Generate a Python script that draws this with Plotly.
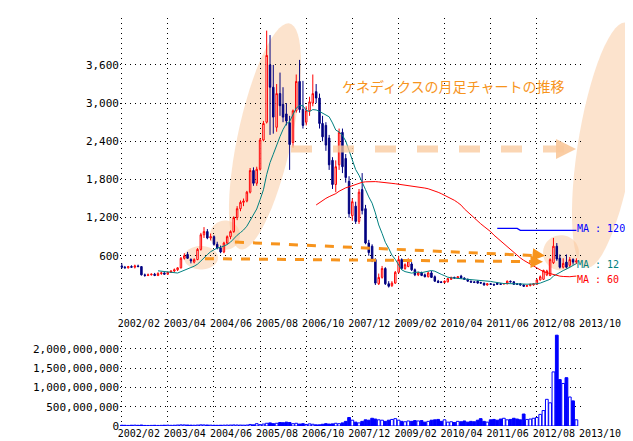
import numpy as np
import pandas as pd
import plotly.graph_objects as go

# ---------------- data ----------------
ohlc = [
(440,480,400,420),(420,440,400,410),(410,440,400,430),(430,450,410,420),(420,460,400,440),
(440,460,420,430),(430,430,290,300),(300,320,270,290),(290,320,280,300),(300,320,290,310),
(310,330,280,290),(290,340,280,320),(320,350,300,330),(330,340,300,310),(310,350,300,340),
(340,370,330,360),(360,400,340,380),(380,420,360,410),(410,580,400,560),(560,640,540,600),
(620,660,550,560),(540,560,480,520),(500,560,480,540),(540,720,530,700),(700,960,680,930),
(930,1050,880,980),(980,1020,860,880),(880,950,840,900),(900,920,760,780),(780,820,700,720),
(720,760,640,660),(660,820,640,800),(800,920,780,900),(900,1000,860,980),(980,1220,960,1200),
(1200,1380,1160,1340),(1340,1470,1300,1440),(1440,1500,1380,1460),(1460,1620,1440,1600),(1600,1980,1580,1940),
(1940,1990,1700,1740),(1740,2000,1700,1960),(1960,2450,1940,2420),(2420,2720,2400,2680),(2700,4140,2680,3750),
(3600,4070,2500,3250),(3250,3600,2520,2780),(2620,3300,2550,3150),(3150,3480,2800,2960),(2980,3250,2700,2780),
(2830,3000,2650,2720),(2690,2800,1950,2350),(2380,2900,2300,2880),(2880,3450,2850,3340),(3340,3680,2850,2900),
(2900,3350,2600,2650),(2700,2950,2650,2880),(2880,3100,2800,3020),(3000,3450,2950,3150),(3180,3300,3000,3080),
(3080,3150,2600,2680),(2680,2800,2400,2470),(2650,2700,2250,2340),(2450,2500,1950,2030),(2100,2150,1650,1720),
(1720,2100,1600,2000),(2030,2600,1950,2540),(2540,2600,1900,2000),(2130,2200,1750,1830),(1770,1850,1200,1260),
(1230,1500,1150,1450),(1380,1450,1100,1140),(1140,1650,1100,1600),(1640,1900,1250,1310),(1340,1400,780,800),
(800,850,600,650),(750,780,500,540),(540,560,140,170),(160,320,140,260),(260,440,240,400),
(400,420,140,160),(160,200,100,120),(130,200,110,170),(170,360,160,340),(340,600,320,540),
(540,560,380,400),(400,480,380,460),(430,560,420,520),(470,500,360,380),(380,400,280,300),
(300,350,280,330),(330,350,280,290),(300,320,260,270),(270,350,260,330),(330,360,250,260),
(270,290,190,200),(200,220,170,180),(190,200,170,180),(180,210,170,200),(190,250,180,240),
(230,270,220,260),(260,270,240,250),(250,280,240,270),(280,300,240,250),(250,260,220,230),
(230,240,190,200),(200,210,180,185),(190,200,170,180),(200,210,160,170),(180,190,160,170),
(170,175,130,140),(140,170,130,160),(160,170,140,150),(150,160,130,140),(170,180,140,150),
(160,170,140,150),(160,170,150,160),(160,210,150,200),(200,210,180,190),(190,200,140,150),
(160,170,140,150),(160,170,130,140),(140,150,110,120),(120,140,110,130),(130,160,120,150),
(140,170,130,160),(150,240,140,220),(220,290,210,270),(230,380,220,370),(300,380,280,360),
(290,560,280,540),(490,880,470,750),(750,800,520,550),(560,620,400,420),(420,560,400,480),
(500,620,400,420),(450,580,420,540),(540,560,460,500),(500,560,470,520),
]
volume_m = [
20,18,15,20,22,18,25,15,14,16,18,15,17,20,22,18,20,25,30,28,
25,22,20,24,30,28,25,22,20,18,20,22,24,25,28,26,24,22,25,
40,30,60,35,50,70,80,60,70,90,85,100,90,60,70,50,60,40,55,45,30,
30,45,60,50,55,70,60,80,120,220,150,100,80,120,160,150,200,180,
160,150,120,150,170,190,150,120,110,130,120,140,130,140,100,120,150,160,170,120,
160,100,110,90,120,110,130,100,120,110,150,190,120,100,160,170,150,180,200,160,
170,200,180,160,310,
170,180,200,220,300,400,690,600,1400,2350,1200,1100,1250,750,650,160,
]
start_month = "2002-02-01"
tick_months = ["2002-02","2003-04","2004-06","2005-08","2006-10","2007-12",
               "2009-02","2010-04","2011-06","2012-08","2013-10"]
tick_labels = [m.replace("-", "/") for m in tick_months]
price_ticks = [600, 1200, 1800, 2400, 3000, 3600]
vol_ticks = [0, 500e6, 1000e6, 1500e6, 2000e6]
ma120_y = [1030, 1030, 1000, 1000]
ma120_dates = ["2011-08-01", "2012-02-01", "2012-03-01", "2013-08-01"]

# ---------------- build ----------------
n = len(ohlc)
dates = pd.date_range(start_month, periods=n, freq="MS")
o = [r[0] for r in ohlc]; h = [r[1] for r in ohlc]; l = [r[2] for r in ohlc]; c = [r[3] for r in ohlc]
cs = pd.Series(c, index=dates)
ma12 = cs.rolling(12).mean()
ma60 = cs.rolling(60).mean()
vdates = pd.date_range(start_month, periods=len(volume_m), freq="MS")
vol = [v * 1e6 for v in volume_m]
vup = [(c[i] >= o[i]) if i < n else True for i in range(len(vol))]

W, H = 633, 441
L, R, T, B = 112, W - 575, 10, H - 427
pw, ph = 575 - L, 427 - T
def px(x): return (x - L) / pw
def py(y): return (427 - y) / ph

price_dom = [py(315), 1.0]
vol_dom = [0.0, py(330)]
p_per_px = 600 / 39.0
price_rng = [(292 - 315) * p_per_px, (292 - 10) * p_per_px]
vol_rng = [0, (427 - 330) / 79 * 2e9]

mono = "DejaVu Sans Mono"
fig = go.Figure()
fig.add_trace(go.Candlestick(
    x=dates, open=o, high=h, low=l, close=c, xaxis="x", yaxis="y",
    increasing=dict(line=dict(color="red", width=1), fillcolor="white"),
    decreasing=dict(line=dict(color="#000080", width=1), fillcolor="#000080"),
    whiskerwidth=0, showlegend=False, hoverinfo="skip"))
fig.add_trace(go.Scatter(x=dates, y=ma12, mode="lines", line=dict(color="#008080", width=1),
                         showlegend=False, xaxis="x", yaxis="y"))
fig.add_trace(go.Scatter(x=dates, y=ma60, mode="lines", line=dict(color="red", width=1),
                         showlegend=False, xaxis="x", yaxis="y"))
fig.add_trace(go.Scatter(x=pd.to_datetime(ma120_dates), y=ma120_y, mode="lines",
                         line=dict(color="blue", width=1.3), showlegend=False, xaxis="x", yaxis="y"))
fig.add_trace(go.Bar(x=vdates, y=vol, xaxis="x2", yaxis="y2", showlegend=False,
                     marker=dict(color=["white" if u else "blue" for u in vup],
                                 line=dict(color="blue", width=1)), width=2.2e9))

tv = pd.to_datetime([m + "-01" for m in tick_months])
xcommon = dict(type="date", range=[pd.Timestamp("2002-01-15"), pd.Timestamp("2013-10-01")],
               tickvals=tv, ticktext=tick_labels, showgrid=True, gridcolor="black",
               griddash="1px,4px", gridwidth=1, zeroline=False, showline=False, ticks="",
               tickfont=dict(family=mono, size=10, color="black"), ticklabelshift=17,
               rangeslider=dict(visible=False))
ycommon = dict(showgrid=True, gridcolor="black", griddash="1px,4px", gridwidth=1, zeroline=False,
               ticks="", tickfont=dict(family=mono, size=11, color="black"), showline=False)

fig.update_layout(
    width=W, height=H, margin=dict(l=L, r=R, t=T, b=B),
    paper_bgcolor="white", plot_bgcolor="white",
    xaxis=dict(domain=[0, 1], anchor="y", **xcommon),
    xaxis2=dict(domain=[0, 1], anchor="y2", matches="x", **xcommon),
    yaxis=dict(domain=price_dom, range=price_rng, tickvals=price_ticks,
               ticktext=[f"{v:,}" for v in price_ticks], **ycommon),
    yaxis2=dict(domain=vol_dom, range=vol_rng, tickvals=vol_ticks,
                ticktext=[f"{int(v):,}" for v in vol_ticks], **ycommon),
)

peach = "rgba(250,200,155,0.5)"
def ellipse(cx, cy, a, b, ang_deg):
    t = np.linspace(0, 2 * np.pi, 60)
    ang = np.radians(ang_deg)
    xs = cx + a * np.cos(t) * np.cos(ang) - b * np.sin(t) * np.sin(ang)
    ys = cy + a * np.cos(t) * np.sin(ang) + b * np.sin(t) * np.cos(ang)
    pts = [f"{px(x_):.4f},{py(y_):.4f}" for x_, y_ in zip(xs, ys)]
    return "M " + " L ".join(pts) + " Z"

shapes = []
for (cx, cy, a, b, ang) in [(193, 255, 17, 12, 0), (217, 232, 15, 15, 0),
                            (257, 131, 27, 118, 12), (553, 250, 18, 18, 0),
                            (598, 140, 28, 127, 9)]:
    shapes.append(dict(type="path", path=ellipse(cx, cy, a, b, ang), xref="paper", yref="paper",
                       fillcolor=peach, line=dict(width=0), layer="below"))
orange = "#f7941d"
shapes.append(dict(type="line", xref="paper", yref="paper", x0=px(227), y0=py(239), x1=px(530), y1=py(253),
                   line=dict(color=orange, width=3, dash="dash")))
shapes.append(dict(type="line", xref="paper", yref="paper", x0=px(197), y0=py(256), x1=px(528), y1=py(259),
                   line=dict(color=orange, width=3, dash="dash")))
shapes.append(dict(type="line", xref="paper", yref="paper", x0=px(283), y0=py(144), x1=px(558), y1=py(144),
                   line=dict(color="rgba(250,200,155,0.75)", width=7, dash="dash")))
fig.update_layout(shapes=shapes)

ann = [
    dict(x=px(537), y=py(253), ax=-10, ay=-1, arrowcolor=orange, arrowwidth=2.5),
    dict(x=px(535), y=py(259), ax=-10, ay=0, arrowcolor=orange, arrowwidth=2.5),
    dict(x=px(568), y=py(144), ax=-14, ay=0, arrowcolor="rgba(250,200,155,0.9)", arrowwidth=4),
]
for a in ann:
    fig.add_annotation(xref="paper", yref="paper", text="", showarrow=True, arrowhead=2,
                       arrowsize=1, **a)
fig.add_annotation(xref="paper", yref="paper", x=px(445), y=py(80), text="ケネディクスの月足チャートの推移",
                   xanchor="center", yanchor="middle",
                   showarrow=False, font=dict(family="Noto Sans CJK JP", size=14, color=orange))
for txt, yy, col in [("MA : 120", 225, "blue"), ("MA : 12", 262, "#008080"), ("MA : 60", 277, "red")]:
    fig.add_annotation(xref="paper", yref="paper", x=px(580), y=py(yy), text=txt, xanchor="left",
                       yanchor="middle", showarrow=False, borderpad=0, xshift=-12,
                       font=dict(family=mono, size=10, color=col))

fig.write_html("out.html")
